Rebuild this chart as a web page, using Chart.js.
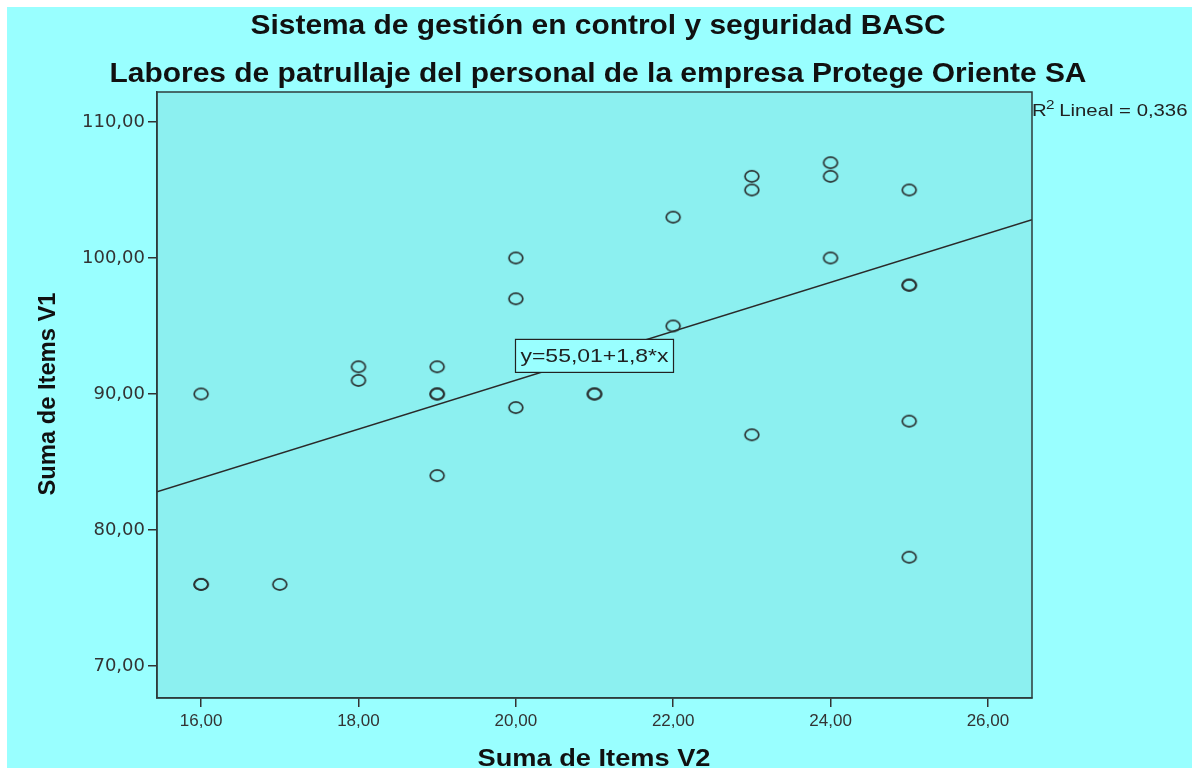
<!DOCTYPE html>
<html>
<head>
<meta charset="utf-8">
<title>Sistema de gestión en control y seguridad BASC</title>
<script src="https://cdn.jsdelivr.net/npm/chart.js@4.4.1/dist/chart.umd.min.js"></script>
<style>
  html, body { margin: 0; padding: 0; background: #ffffff; }
  #wrap { width: 1199px; height: 768px; }
</style>
</head>
<body>
<div id="wrap"><canvas id="grafico" width="1199" height="768"></canvas></div>
<script>
// valores (Suma de Items V2 / Suma de Items V1)
const sumaV2 = [16, 16, 16, 17, 18, 18, 19, 19, 19, 19, 20, 20, 20, 21, 21, 22, 22, 23, 23, 23, 24, 24, 24, 25, 25, 25, 25, 25];
const sumaV1 = [90, 76, 76, 76, 92, 91, 92, 90, 90, 84, 100, 97, 89, 90, 90, 103, 95, 106, 105, 87, 107, 106, 100, 105, 98, 98, 88, 78];

const ticksX = [16, 18, 20, 22, 24, 26];
const ticksY = [70, 80, 90, 100, 110];
const rangoX = [15.44, 26.56];
const rangoY = [67.65, 112.2];

// ajuste lineal
const intercepto = 55.01;
const pendiente = 1.8;
const r2 = '0,336';
const etiquetaEcuacion = 'y=55,01+1,8*x';
const posEcuacion = [21.0, 92.8];

const tituloPrincipal = 'Sistema de gestión en control y seguridad BASC';
const subtitulo = 'Labores de patrullaje del personal de la empresa Protege Oriente SA';
const tituloX = 'Suma de Items V2';
const tituloY = 'Suma de Items V1';

const puntos = sumaV2.map((x, i) => ({ x: x, y: sumaV1[i] }));
const lineaAjuste = rangoX.map((x) => ({ x: x, y: intercepto + pendiente * x }));

const fmt = (v) => Number(v).toFixed(2).replace('.', ',');

// marcador: circulo abierto algo achatado, como en SPSS
const marcador = document.createElement('canvas');
marcador.width = 18;
marcador.height = 15;
(function () {
  let c = marcador.getContext('2d');
  c.strokeStyle = '#2b3333';
  c.lineWidth = 1.7;
  c.beginPath();
  c.ellipse(9, 7.5, 6.9, 5.6, 0, 0, Math.PI * 2);
  c.stroke();
})();

// texto con ancho fijo (se estira o comprime horizontalmente)
const textoAncho = function (ctx, txt, x, y, font, ancho, alinear) {
  ctx.save();
  ctx.font = font;
  let w = ctx.measureText(txt).width;
  ctx.translate(x, y);
  ctx.scale(ancho / w, 1);
  ctx.textAlign = alinear || 'center';
  ctx.fillText(txt, 0, 0);
  ctx.restore();
};

const fondo = {
  id: 'fondo',
  beforeDraw(chart) {
    const { ctx, chartArea: a } = chart;
    ctx.save();
    ctx.fillStyle = '#99ffff';
    ctx.fillRect(7, 7, 1185, 761);
    ctx.fillStyle = '#8cf0f0';
    ctx.fillRect(a.left, a.top, a.right - a.left, a.bottom - a.top);
    ctx.restore();
  },
  afterDraw(chart) {
    const { ctx, chartArea: a, scales } = chart;
    ctx.save();
    ctx.strokeStyle = '#2e3c3c';
    ctx.lineWidth = 1.5;
    ctx.strokeRect(a.left, a.top, a.right - a.left, a.bottom - a.top);

    // titulos
    ctx.fillStyle = '#111';
    textoAncho(ctx, tituloPrincipal, 598, 34, 'bold 27px "Liberation Sans", Arial', 695);
    textoAncho(ctx, subtitulo, 598, 82, 'bold 27px "Liberation Sans", Arial', 977);
    textoAncho(ctx, tituloX, 594, 766, 'bold 24px "Liberation Sans", Arial', 233);
    ctx.save();
    ctx.translate(55, 394);
    ctx.rotate(-Math.PI / 2);
    textoAncho(ctx, tituloY, 0, 0, 'bold 24px "Liberation Sans", Arial', 203);
    ctx.restore();

    // R2
    ctx.fillStyle = '#222';
    ctx.save();
    ctx.translate(1032, 116);
    ctx.scale(1.27, 1);
    ctx.textAlign = 'left';
    ctx.font = '16px "Liberation Sans", Arial';
    ctx.fillText('R', 0, 0);
    ctx.font = '12px "Liberation Sans", Arial';
    ctx.fillText('2', 11, -7);
    ctx.font = '16px "Liberation Sans", Arial';
    ctx.fillText(' Lineal = ' + r2, 17, 0);
    ctx.restore();

    // caja de la ecuacion
    const cx = scales.x.getPixelForValue(posEcuacion[0]);
    const cy = scales.y.getPixelForValue(posEcuacion[1]);
    const bw = 158, bh = 33;
    ctx.fillStyle = '#99ffff';
    ctx.fillRect(cx - bw / 2, cy - bh / 2, bw, bh);
    ctx.strokeStyle = '#222';
    ctx.lineWidth = 1.2;
    ctx.strokeRect(cx - bw / 2, cy - bh / 2, bw, bh);
    ctx.fillStyle = '#222';
    ctx.textBaseline = 'middle';
    textoAncho(ctx, etiquetaEcuacion, cx, cy + 1, '19px "Liberation Sans", Arial', 148);
    ctx.restore();
  },
};

new Chart(document.getElementById('grafico').getContext('2d'), {
  type: 'scatter',
  data: {
    datasets: [
      {
        label: 'Lineal',
        type: 'line',
        data: lineaAjuste,
        borderColor: '#2a2a2a',
        borderWidth: 1.5,
        pointRadius: 0,
        fill: false,
        order: 2,
      },
      {
        label: tituloY,
        data: puntos,
        pointStyle: marcador,
        pointRadius: 7,
        order: 1,
      },
    ],
  },
  options: {
    responsive: false,
    animation: false,
    layout: { padding: { top: 92, right: 167, left: 0, bottom: 0 } },
    plugins: {
      legend: { display: false },
      title: { display: false },
      tooltip: { enabled: false },
    },
    scales: {
      x: {
        type: 'linear',
        min: rangoX[0],
        max: rangoX[1],
        afterBuildTicks: (s) => { s.ticks = ticksX.map((v) => ({ value: v })); },
        afterFit: (s) => { s.height = 70; s.paddingLeft = 0; s.paddingRight = 0; },
        ticks: {
          callback: fmt,
          color: '#333',
          padding: 4,
          maxRotation: 0,
          font: { family: '"Liberation Sans", Arial', size: 17 },
        },
        grid: { drawOnChartArea: false, drawTicks: true, tickLength: 9, color: '#333', lineWidth: 1.5 },
        border: { display: true, color: '#2e3c3c', width: 1.5 },
      },
      y: {
        type: 'linear',
        min: rangoY[0],
        max: rangoY[1],
        afterBuildTicks: (s) => { s.ticks = ticksY.map((v) => ({ value: v })); },
        afterFit: (s) => { s.width = 157; },
        ticks: {
          callback: fmt,
          color: '#333',
          padding: 3,
          font: { family: '"DejaVu Sans", Verdana', size: 18 },
        },
        grid: { drawOnChartArea: false, drawTicks: true, tickLength: 9, color: '#333', lineWidth: 1.5 },
        border: { display: true, color: '#2e3c3c', width: 1.5 },
      },
    },
  },
  plugins: [fondo],
});
</script>
</body>
</html>
